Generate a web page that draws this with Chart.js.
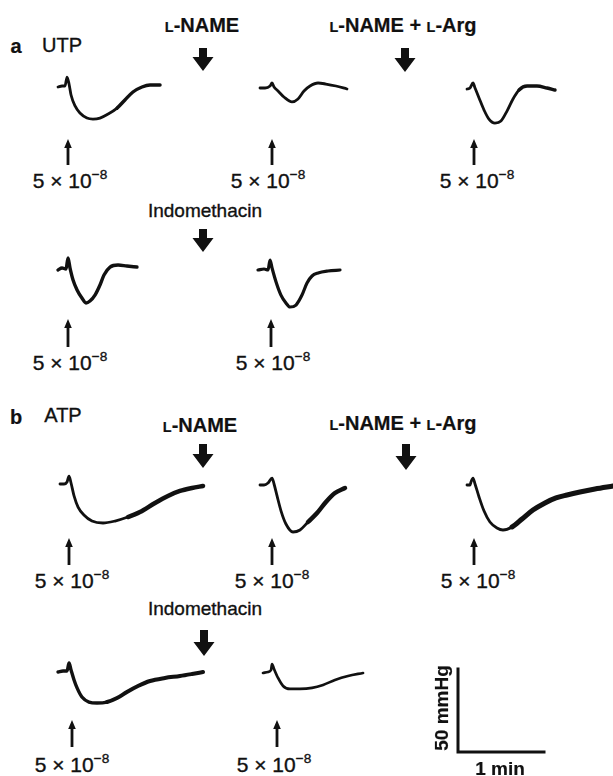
<!DOCTYPE html>
<html><head><meta charset="utf-8">
<script src="https://cdn.jsdelivr.net/npm/chart.js@4.4.1/dist/chart.umd.min.js"></script>
<style>
html,body{margin:0;padding:0;background:#fff;}
body{width:613px;height:776px;position:relative;overflow:hidden;font-family:"Liberation Sans",Arial,sans-serif;color:#111;}
.t{position:absolute;transform:translate(-50%,-50%);white-space:nowrap;line-height:1;-webkit-text-stroke:0.35px #111;}
.b{font-weight:bold;-webkit-text-stroke:0.2px #111;}
.sc{font-size:72%;}
sup{font-size:65%;position:relative;top:-0.15em;vertical-align:top;}
canvas{position:absolute;}
svg{position:absolute;left:0;top:0;}
</style></head><body>
<script>
// ---------- data (time in s, pressure change in mmHg) ----------
const utpCtrlT = [0, 2.8, 4.9, 6.3, 7.7, 9.1, 11.9, 15.3, 20.2, 24.4, 29.3, 34.9, 41.2, 46.7, 52.3, 58.6, 64.2, 71.2];
const utpCtrlP = [0, 0.6, 0.6, 6.0, 1.8, -4.8, -11.4, -15.7, -18.7, -19.3, -18.7, -16.3, -12.7, -7.8, -3.0, 0, 1.2, 1.2];
const utpNameT = [0, 3.5, 7.0, 8.4, 9.8, 12.6, 16.7, 22.3, 26.5, 30.7, 34.9, 40.5, 46.0, 53.0, 60.7];
const utpNameP = [0, 0, 1.2, 3.0, 0.6, -1.8, -5.4, -8.4, -6.6, -1.8, 1.2, 3.0, 2.4, 1.2, -0.6];
const utpArgT  = [0, 2.1, 4.2, 5.6, 8.4, 11.9, 15.3, 19.5, 23.7, 27.9, 32.1, 36.3, 41.9, 48.8, 55.8, 61.4];
const utpArgP  = [0, 0.6, 3.6, 0.6, -5.4, -12.7, -18.1, -20.5, -19.3, -13.3, -6.0, -0.6, 1.8, 1.8, 0.6, -0.6];
const utpIndo1T = [0, 2.8, 5.6, 7.0, 8.4, 10.5, 13.3, 16.7, 19.5, 22.3, 25.8, 29.3, 32.1, 36.3, 41.9, 48.1, 55.1];
const utpIndo1P = [0, 1.2, 0.6, 7.2, 1.2, -6.0, -12.0, -16.9, -19.9, -18.7, -15.1, -9.0, -3.0, 1.8, 3.0, 2.4, 1.8];
const utpIndo2T = [0, 4.2, 7.0, 8.4, 9.8, 12.6, 16.0, 19.5, 22.3, 26.5, 30.7, 34.2, 37.7, 41.9, 48.8, 57.2];
const utpIndo2P = [0, 0.6, 0, 6.0, 1.2, -7.2, -15.1, -19.9, -22.3, -21.1, -15.1, -7.8, -3.6, -1.8, -0.6, 0];

const atpCtrlT = [0, 2.8, 4.9, 6.3, 7.7, 9.8, 12.6, 16.7, 22.3, 30.0, 38.4, 47.4, 55.8, 66.3, 75.3, 83.7, 92.1, 99.8];
const atpCtrlP = [0, 0, 1.2, 4.8, 0.6, -7.2, -13.9, -18.7, -22.3, -23.5, -22.3, -19.9, -16.9, -11.4, -7.2, -4.2, -2.4, -1.2];
const atpNameT = [0, 2.8, 5.6, 8.4, 9.8, 11.9, 14.7, 18.1, 23.0, 27.9, 33.5, 39.8, 46.0, 52.3, 59.3];
const atpNameP = [0, 0, 1.2, 4.2, 0.6, -6.6, -15.7, -23.5, -28.3, -27.1, -22.3, -16.9, -10.2, -4.8, -1.8];
const atpArgT  = [0, 2.1, 2.8, 4.2, 5.6, 8.4, 11.9, 16.0, 20.9, 25.1, 31.4, 38.4, 46.0, 54.4, 62.1, 69.8, 78.8, 89.3, 101.9];
const atpArgP  = [0, 0, 1.8, 4.2, 0.6, -7.2, -15.7, -22.3, -25.9, -27.1, -25.3, -20.5, -15.1, -10.8, -7.8, -6.0, -4.2, -2.4, -0.6];
const atpIndo1T = [0, 3.5, 6.3, 7.7, 9.1, 11.2, 13.3, 16.7, 21.6, 27.2, 34.2, 41.2, 48.1, 55.8, 64.2, 74.6, 85.1, 93.5, 101.2];
const atpIndo1P = [0, 0.6, 0.6, 5.4, 1.2, -4.8, -9.6, -15.1, -18.1, -18.7, -18.1, -15.7, -12.0, -8.4, -5.4, -3.6, -2.4, -1.2, 0];
const atpIndo2T = [0, 3.5, 5.6, 6.3, 7.7, 10.5, 14.0, 18.8, 25.8, 34.2, 41.9, 50.2, 59.3, 69.8];
const atpIndo2P = [0, 0.6, 1.8, 5.4, 2.4, -3.0, -7.8, -9.6, -9.6, -9.0, -7.2, -4.2, -1.8, 0];

const scaleBarT = [0, 0, 60];
const scaleBarP = [50, 0, 0];

const doseBase = "5 × 10";
const doseExp = "−8";
const panelLetters = ["a", "b"];
const agonists = ["UTP", "ATP"];
const scaleLabels = ["50 mmHg", "1 min"];

// ---------- layout ----------
const PX_PER_S = 86 / 60;
const PX_PER_MMHG = 83 / 50;
const PAD = 12;

function drawTrace(t, p, x0, y0, opt) {
  opt = opt || {};
  const above = opt.above || 34, below = opt.below || 54;
  const w = Math.ceil(Math.max(...t) * PX_PER_S) + 2 * PAD;
  const h = above + below;
  const c = document.createElement('canvas');
  c.width = w; c.height = h;
  c.style.left = (x0 - PAD) + 'px';
  c.style.top = (y0 - above) + 'px';
  c.style.width = w + 'px'; c.style.height = h + 'px';
  document.body.appendChild(c);
  const bw = opt.width || 2.8, tw = opt.tailWidth || bw, ts = opt.tailStart == null ? 1e9 : opt.tailStart;
  new Chart(c, {
    type: 'scatter',
    data: { datasets: [{
      data: t.map((v, i) => ({ x: v, y: p[i] })),
      showLine: true, pointRadius: 0, borderColor: '#111', borderWidth: bw,
      cubicInterpolationMode: opt.straight ? 'default' : 'monotone',
      tension: opt.straight ? 0 : 0.4,
      borderCapStyle: opt.straight ? 'square' : 'round', borderJoinStyle: opt.straight ? 'miter' : 'round',
      clip: false,
      segment: { borderWidth: ctx => (ctx.p0.parsed.x >= ts ? tw : bw) }
    }]},
    options: {
      responsive: false, animation: false, devicePixelRatio: 1, events: [],
      layout: { padding: 0 },
      plugins: { legend: { display: false }, tooltip: { enabled: false } },
      scales: {
        x: { type: 'linear', display: false, min: -PAD / PX_PER_S, max: (w - PAD) / PX_PER_S },
        y: { type: 'linear', display: false, min: -below / PX_PER_MMHG, max: above / PX_PER_MMHG }
      }
    }
  });
}

function text(html, x, y, size, bold, extra) {
  const d = document.createElement('div');
  d.className = 't' + (bold ? ' b' : '');
  d.style.left = x + 'px'; d.style.top = y + 'px';
  d.style.fontSize = size + 'px';
  if (extra) d.style.transform = 'translate(-50%,-50%) ' + extra;
  d.innerHTML = html;
  document.body.appendChild(d);
}
const lname = '<span class="sc">L</span>-NAME';
const larg = '<span class="sc">L</span>-Arg';
const dose = doseBase + '<sup>' + doseExp + '</sup>';

// SVG arrows
const svgNS = 'http://www.w3.org/2000/svg';
const svg = document.createElementNS(svgNS, 'svg');
svg.setAttribute('width', 613); svg.setAttribute('height', 776);
document.body.appendChild(svg);
function path(d) { const p = document.createElementNS(svgNS, 'path'); p.setAttribute('d', d); p.setAttribute('fill', '#111'); svg.appendChild(p); }
function bigDown(x, y1, y2) {
  const hh = 14, hw = 10.5, sw = 4;
  path(`M${x - sw},${y1} L${x + sw},${y1} L${x + sw},${y2 - hh} L${x + hw},${y2 - hh} L${x},${y2} L${x - hw},${y2 - hh} L${x - sw},${y2 - hh} Z`);
}
function smallUp(x, y1, y2) {
  const hh = 9, hw = 3.8, sw = 1.4;
  path(`M${x},${y1} L${x + hw},${y1 + hh} L${x + sw},${y1 + hh} L${x + sw},${y2} L${x - sw},${y2} L${x - sw},${y1 + hh} L${x - hw},${y1 + hh} Z`);
}

// ---- panel a ----
text(panelLetters[0], 16, 46, 20, true);
text(agonists[0], 62, 45, 20, false);
text(lname, 202, 25, 20, true);
text(lname + ' + ' + larg, 403, 25, 20, true);
bigDown(203, 48, 71); bigDown(405, 48, 72);
drawTrace(utpCtrlT, utpCtrlP, 58, 87, { tailStart: 40, tailWidth: 3.4 });
drawTrace(utpNameT, utpNameP, 260, 88, { width: 2.8 });
drawTrace(utpArgT, utpArgP, 467, 89, { width: 2.8, tailStart: 36, tailWidth: 3.4 });
[[68, 70], [272, 268], [474, 477]].forEach(([ax, lx]) => { smallUp(ax, 139, 165); text(dose, lx, 180, 21, false); });

text('Indomethacin', 205, 210, 19, false);
bigDown(203, 229, 252);
drawTrace(utpIndo1T, utpIndo1P, 58, 270, { width: 3.4 });
drawTrace(utpIndo2T, utpIndo2P, 258, 270, { width: 3.2 });
[[68, 70], [271, 273]].forEach(([ax, lx]) => { smallUp(ax, 319, 347); text(dose, lx, 362, 21, false); });

// ---- panel b ----
text(panelLetters[1], 16, 417, 20, true);
text(agonists[1], 63, 415, 20, false);
text(lname, 200, 425, 20, true);
text(lname + ' + ' + larg, 403, 423, 20, true);
bigDown(203, 444, 468); bigDown(406, 444, 470);
drawTrace(atpCtrlT, atpCtrlP, 60, 484, { width: 2.8, tailStart: 40, tailWidth: 4.5 });
drawTrace(atpNameT, atpNameP, 260, 485, { width: 2.8, tailStart: 30, tailWidth: 4.5 });
drawTrace(atpArgT, atpArgP, 467, 485, { width: 2.8, tailStart: 28, tailWidth: 5 });
[[69, 72], [272, 272], [474, 478]].forEach(([ax, lx]) => { smallUp(ax, 538, 565); text(dose, lx, 580, 21, false); });

text('Indomethacin', 205, 608, 19, false);
bigDown(204, 630, 656);
drawTrace(atpIndo1T, atpIndo1P, 58, 672, { width: 3.4, tailStart: 30, tailWidth: 4 });
drawTrace(atpIndo2T, atpIndo2P, 263, 673, { width: 2.7 });
[[72, 72], [277, 274]].forEach(([ax, lx]) => { smallUp(ax, 720, 747); text(dose, lx, 764, 21, false); });

// scale bar
drawTrace(scaleBarT, scaleBarP, 458, 752, { above: 90, below: 10, width: 3, straight: true });
text(scaleLabels[0], 441, 708, 19, true, 'rotate(-90deg)');
text(scaleLabels[1], 500, 768, 19, true);
</script>
</body></html>
